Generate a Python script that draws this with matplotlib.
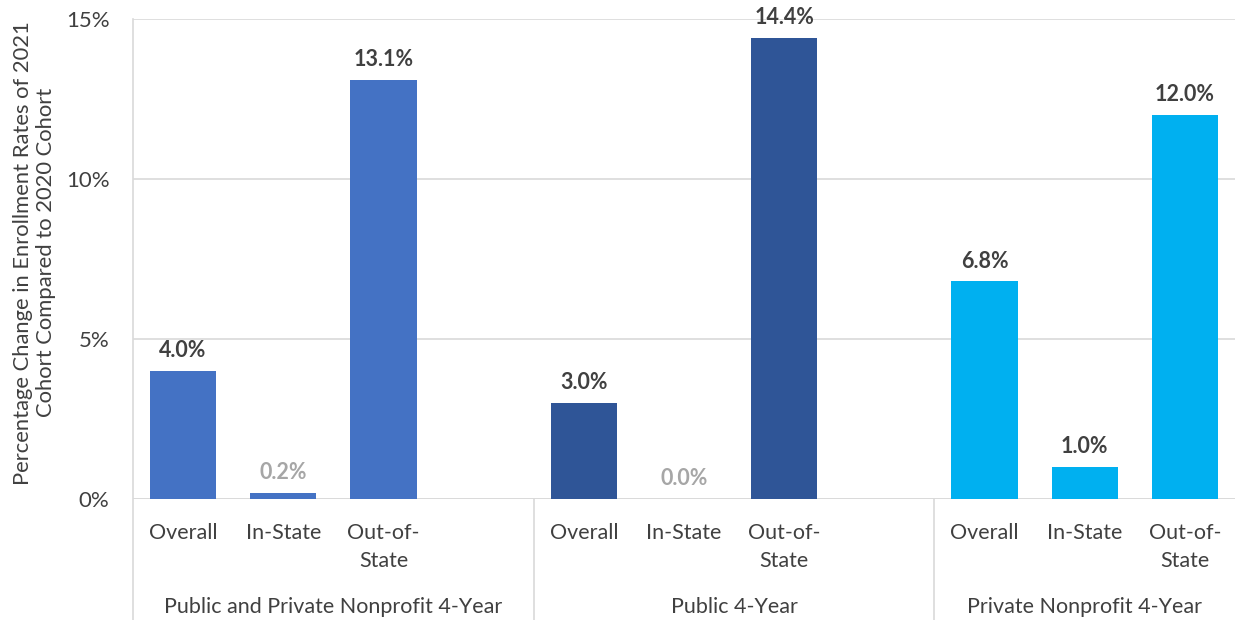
import matplotlib.pyplot as plt
import numpy as np

plt.rcParams['font.family'] = ['Lato', 'DejaVu Sans']

groups = ["Public and Private Nonprofit 4-Year", "Public 4-Year", "Private Nonprofit 4-Year"]
categories = ["Overall", "In-State", "Out-of-\nState"]
all_4yr = [4.0, 0.2, 13.1]
public_4yr = [3.0, 0.0, 14.4]
private_np_4yr = [6.8, 1.0, 12.0]
group_colors = ["#4472C4", "#2F5597", "#00B0F0"]
# labels for near-zero values are drawn in light grey
faint_labels = {(0, 1), (1, 1)}

series = [all_4yr, public_4yr, private_np_4yr]

fig = plt.figure(figsize=(12.35, 6.2), dpi=100)
ax = fig.add_axes([133 / 1235, 121 / 620, 1102 / 1235, 480 / 620])

text_dark = "#404040"
grid_col = "#D9D9D9"

for g, vals in enumerate(series):
    xs = np.arange(len(vals)) + 4 * g
    ax.bar(xs, vals, width=0.66, color=group_colors[g], zorder=3)
    for i, (x, v) in enumerate(zip(xs, vals)):
        col = "#A6A6A6" if (g, i) in faint_labels else text_dark
        ax.annotate(f"{v:.1f}%", (x, v), xytext=(0, 7), textcoords="offset points",
                    ha="center", va="bottom", fontsize=15.5, fontweight="bold", color=col)
        ax.text(x, -0.049, categories[i], transform=ax.get_xaxis_transform(),
                ha="center", va="top", fontsize=15.5, color=text_dark, linespacing=1.55)
    ax.text(4 * g + 1.5 if g < 2 else 9, -0.225, groups[g], transform=ax.get_xaxis_transform(),
            ha="center", va="center", fontsize=15.5, color=text_dark)

# group separators running down through the category labels
for sx in [3.5, 7.5]:
    ax.plot([sx, sx], [0, -0.26], transform=ax.get_xaxis_transform(),
            color=grid_col, lw=1.2, clip_on=False)
ax.plot([-0.5, -0.5], [1, -0.26], transform=ax.get_xaxis_transform(),
        color=grid_col, lw=1.2, clip_on=False)

ax.set_xlim(-0.5, 10.5)
ax.set_ylim(0, 15)
ax.set_yticks([0, 5, 10, 15])
ax.set_yticklabels(["0%", "5%", "10%", "15%"])
ax.set_xticks([])
ax.tick_params(axis="y", length=0, labelsize=16, labelcolor=text_dark, pad=17)
ax.yaxis.grid(True, color=grid_col, lw=1.2, zorder=0)
for s in ax.spines.values():
    s.set_visible(False)
ax.axhline(0, color=grid_col, lw=1.2, zorder=2)

ax.set_ylabel("Percentage Change in Enrollment Rates of 2021\nCohort Compared to 2020 Cohort",
              fontsize=15.8, color=text_dark, linespacing=1.15)
ax.yaxis.set_label_coords(-0.07, 0.513)

fig.savefig("out.png", dpi=100)
